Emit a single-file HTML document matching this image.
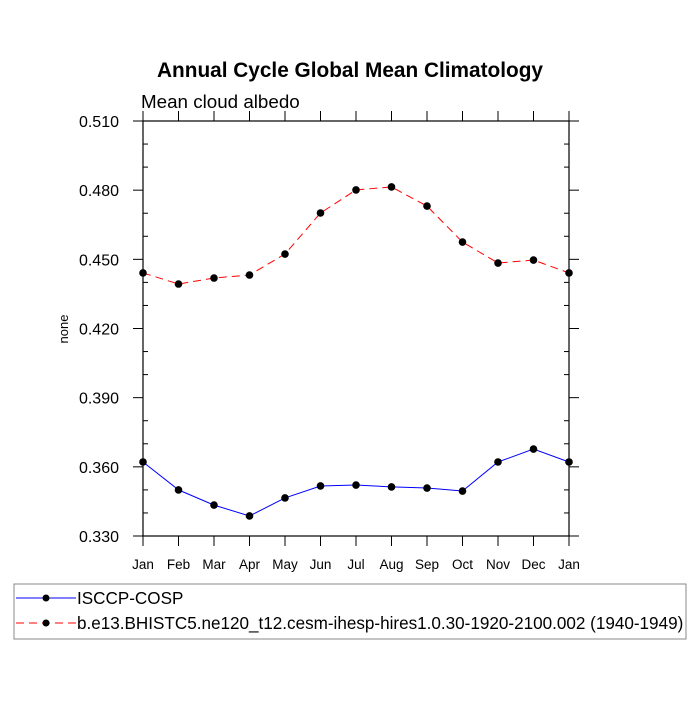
<!DOCTYPE html>
<html><head><meta charset="utf-8"><style>body{margin:0;background:#fff}svg text{font-family:"Liberation Sans",sans-serif}</style></head>
<body>
<svg id="c" width="700" height="700" xmlns="http://www.w3.org/2000/svg">
<text x="350" y="77" text-anchor="middle" font-size="20.8" font-weight="bold">Annual Cycle Global Mean Climatology</text>
<text x="141" y="108" font-size="18.8">Mean cloud albedo</text>
<text x="68" y="329" font-size="13" text-anchor="middle" transform="rotate(-90 68 329)">none</text>
<g id="axes"></g><g id="series"></g>
<rect x="14" y="584" width="672" height="55" fill="none" stroke="#888" stroke-width="1"/>
<g>
<line x1="16" y1="598" x2="76" y2="598" stroke="#00f"/><circle cx="46" cy="598" r="3.5"/>
<text x="77" y="604" font-size="17.1">ISCCP-COSP</text></g>
<g>
<line x1="16" y1="623" x2="76" y2="623" stroke="#f00" stroke-dasharray="8,5"/><circle cx="46" cy="623" r="3.5"/>
<text x="77" y="629" font-size="17.1">b.e13.BHISTC5.ne120_t12.cesm-ihesp-hires1.0.30-1920-2100.002 (1940-1949)</text></g>
</svg>
<script>
const months=["Jan","Feb","Mar","Apr","May","Jun","Jul","Aug","Sep","Oct","Nov","Dec","Jan"];
const yTicks=[0.330,0.360,0.390,0.420,0.450,0.480,0.510];
const obsVals=[0.3621,0.3500,0.3434,0.3387,0.3465,0.3517,0.3521,0.3513,0.3508,0.3495,0.3621,0.3677,0.3621];
const modelVals=[0.4441,0.4393,0.4419,0.4432,0.4523,0.4701,0.4801,0.4814,0.4731,0.4575,0.4484,0.4497,0.4441];
const L=143,R=569,T=121,B=536,ymin=0.33,ymax=0.51;
const xs=i=>L+(R-L)*i/(months.length-1);
const ys=v=>B-(v-ymin)/(ymax-ymin)*(B-T);
const NS="http://www.w3.org/2000/svg";
function mk(t,a,p){const e=document.createElementNS(NS,t);for(const k in a)e.setAttribute(k,a[k]);p.appendChild(e);return e;}
const ax=document.getElementById('axes');
const fr=mk('rect',{x:L,y:T,width:R-L,height:B-T,fill:'none',stroke:'#000','stroke-width':1.2},ax);


months.forEach((m,i)=>{const x=xs(i);
mk('line',{x1:x,y1:B,x2:x,y2:B+10,stroke:'#000'},ax);
mk('line',{x1:x,y1:T,x2:x,y2:T-10,stroke:'#000'},ax);
const t=mk('text',{x:x,y:B+33,'text-anchor':'middle','font-size':13.5},ax);t.textContent=m;

});
yTicks.forEach(v=>{const y=ys(v);
mk('line',{x1:L,y1:y,x2:L-10,y2:y,stroke:'#000'},ax);
mk('line',{x1:R,y1:y,x2:R+10,y2:y,stroke:'#000'},ax);
const t=mk('text',{x:L-24,y:y+6,'text-anchor':'end','font-size':16},ax);t.textContent=v.toFixed(3);

});
for(let v=ymin;v<ymax-1e-9;v+=0.03){for(let k=1;k<3;k++){const y=ys(v+k*0.01);
mk('line',{x1:L,y1:y,x2:L+5,y2:y,stroke:'#000'},ax);mk('line',{x1:R,y1:y,x2:R-5,y2:y,stroke:'#000'},ax);}}
const sg=document.getElementById('series');
function series(vals,col,dash,name){const g=mk('g',{},sg);


mk('polyline',{points:vals.map((v,i)=>xs(i)+','+ys(v)).join(' '),fill:'none',stroke:col,'stroke-dasharray':dash},g);
vals.forEach((v,i)=>mk('circle',{cx:xs(i),cy:ys(v),r:3.8,fill:'#000'},g));}
series(obsVals,'#00f','none','isccp-cosp-series');
series(modelVals,'#f00','8,5','model-series');
</script>
</body></html>
